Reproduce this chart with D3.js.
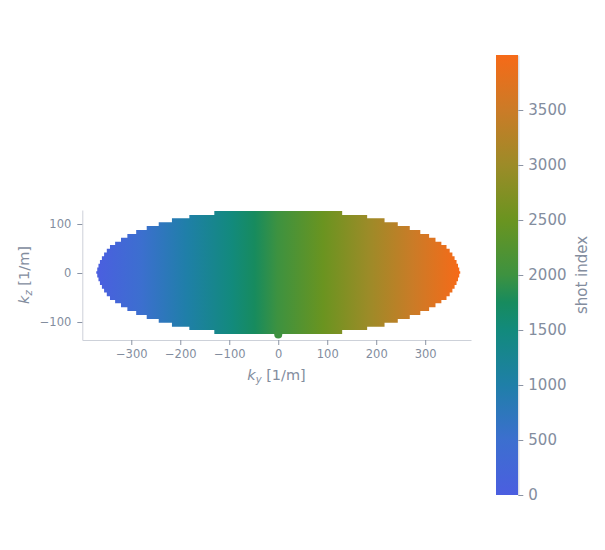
<!DOCTYPE html>
<html>
<head>
<meta charset="utf-8">
<script src="https://cdn.jsdelivr.net/npm/d3@7"></script>
<style>
  html, body { margin: 0; padding: 0; background: #fff; }
  svg { display: block; font-family: "DejaVu Sans", Verdana, sans-serif; }
</style>
</head>
<body>
<svg id="chart" width="605" height="550"></svg>
<script>
// ---------- data ----------
const xTicks = [-300, -200, -100, 0, 100, 200, 300];
const yTicks = [-100, 0, 100];
const cbTicks = [0, 500, 1000, 1500, 2000, 2500, 3000, 3500];
const shotRange = [0, 4000];
const kyAtShotEnds = [-373, 370];          // ky of first and last shot
const cmapShots  = [0, 500, 1000, 1500, 1750, 2000, 2500, 3000, 3500, 4000];
const cmapColors = ["#4b5ee0", "#3c6fcf", "#1f7fa8", "#128a7c", "#178b5e", "#3d9240", "#6a9420", "#9c8b28", "#cb7b27", "#f66a18"];
// sampled k-space region: upper edge of each kz band (distance from centre) and its ky half-width
const bandEdge      = [125.5, 117.4, 110.6, 102.5, 94.9, 86.8, 78.6, 71.0, 62.9, 56.1, 48.5, 40.8, 33.1, 25.5, 17.8, 10.2, 2.5];
const bandHalfWidth = [130.5, 181.5, 217, 244, 268.5, 290, 308, 321, 333, 343.5, 350, 355.5, 360, 364, 367, 369.5, 371.5];
const kzCentre = 1;
const extraPoint = { ky: 0, kz: -125.5 };   // single sample below the region

// ---------- layout ----------
const textCol = "#838d9e", lineCol = "#cdd1d9", tickCol = "#8b94a4";
const svg = d3.select("#chart");
const x = d3.scaleLinear().domain([-400, 393.5]).range([82.3, 471]);
const y = d3.scaleLinear().domain([-136.7, 128.6]).range([340, 210]);
const color = d3.scaleLinear().domain(cmapShots).range(cmapColors).interpolate(d3.interpolateRgb);
const shotOfKy = d3.scaleLinear().domain(kyAtShotEnds).range(shotRange);

const defs = svg.append("defs");
const g1 = defs.append("linearGradient").attr("id", "kyGrad")
  .attr("gradientUnits", "userSpaceOnUse")
  .attr("x1", x(kyAtShotEnds[0])).attr("x2", x(kyAtShotEnds[1])).attr("y1", 0).attr("y2", 0);
cmapShots.forEach((s, i) => g1.append("stop").attr("offset", (s - shotRange[0]) / (shotRange[1] - shotRange[0])).attr("stop-color", cmapColors[i]));

// ---------- region outline ----------
const n = bandEdge.length;
const right = [[bandHalfWidth[0], bandEdge[0]]];
for (let i = 1; i < n; i++) { right.push([bandHalfWidth[i-1], bandEdge[i]]); right.push([bandHalfWidth[i], bandEdge[i]]); }
right.push([bandHalfWidth[n-1], -bandEdge[n-1]]);
for (let i = n - 1; i >= 1; i--) { right.push([bandHalfWidth[i], -bandEdge[i]]); right.push([bandHalfWidth[i-1], -bandEdge[i]]); }
right.push([bandHalfWidth[0], -bandEdge[0]]);
const outline = right.concat(right.slice().reverse().map(([a, b]) => [-a, b]));
svg.append("path")
  .attr("d", d3.line().x(d => x(d[0])).y(d => y(d[1] + kzCentre))(outline) + "Z")
  .attr("fill", "url(#kyGrad)");

svg.append("circle")
  .attr("cx", x(extraPoint.ky)).attr("cy", y(extraPoint.kz)).attr("r", 4)
  .attr("fill", color(shotOfKy(extraPoint.ky)));

// ---------- axes ----------
function styleAxis(g) {
  g.select(".domain").attr("stroke", lineCol).attr("stroke-width", 1);
  g.selectAll(".tick line").attr("stroke", tickCol);
  g.selectAll(".tick text").attr("fill", textCol);
}
const fmt = d => d < 0 ? "\u2212" + Math.abs(d) : String(d);
svg.append("g").attr("transform", "translate(0,340)")
  .call(d3.axisBottom(x).tickValues(xTicks).tickFormat(fmt).tickSize(5).tickSizeOuter(0).tickPadding(5))
  .call(styleAxis).attr("font-size", 11.5).attr("font-family", null);
svg.append("g").attr("transform", "translate(82.3,0)")
  .call(d3.axisLeft(y).tickValues(yTicks).tickFormat(fmt).tickSize(5).tickSizeOuter(0).tickPadding(6))
  .call(styleAxis).attr("font-size", 11.5).attr("font-family", null);

// axis titles
const xt = svg.append("text").attr("x", 276.5).attr("y", 380).attr("text-anchor", "middle")
  .attr("fill", textCol).attr("font-size", 14.5);
xt.append("tspan").attr("font-style", "italic").text("k");
xt.append("tspan").attr("font-style", "italic").attr("font-size", 10).attr("dy", 3).text("y");
xt.append("tspan").attr("dy", -3).text(" [1/m]");

const yt = svg.append("text").attr("transform", "translate(29,275) rotate(-90)").attr("text-anchor", "middle")
  .attr("fill", textCol).attr("font-size", 14.5);
yt.append("tspan").attr("font-style", "italic").text("k");
yt.append("tspan").attr("font-style", "italic").attr("font-size", 10).attr("dy", 3).text("z");
yt.append("tspan").attr("dy", -3).text(" [1/m]");

// ---------- colour bar ----------
const cb = d3.scaleLinear().domain(shotRange).range([495, 55]);
const g2 = defs.append("linearGradient").attr("id", "cbGrad")
  .attr("gradientUnits", "userSpaceOnUse").attr("x1", 0).attr("x2", 0)
  .attr("y1", cb(shotRange[0])).attr("y2", cb(shotRange[1]));
cmapShots.forEach((s, i) => g2.append("stop").attr("offset", (s - shotRange[0]) / (shotRange[1] - shotRange[0])).attr("stop-color", cmapColors[i]));
svg.append("rect").attr("x", 496).attr("y", cb(shotRange[1])).attr("width", 22)
  .attr("height", cb(shotRange[0]) - cb(shotRange[1])).attr("fill", "url(#cbGrad)");
svg.append("g").attr("transform", "translate(518.3,0)")
  .call(d3.axisRight(cb).tickValues(cbTicks).tickFormat(d3.format("d")).tickSize(5).tickSizeOuter(0).tickPadding(5))
  .call(styleAxis).attr("font-size", 15).attr("font-family", null);

svg.append("text").attr("transform", "translate(587,275) rotate(-90)").attr("text-anchor", "middle")
  .attr("fill", textCol).attr("font-size", 15).text("shot index");
</script>
</body>
</html>
